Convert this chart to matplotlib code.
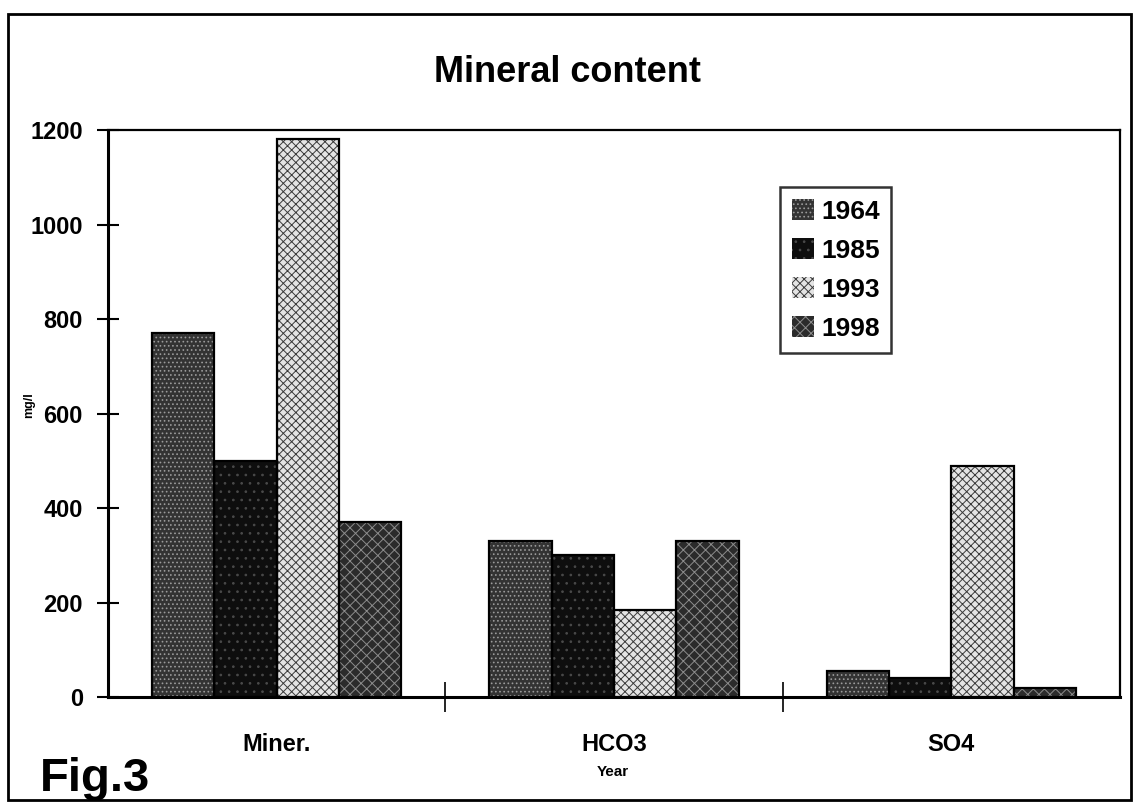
"""Mineral content bar chart (Fig.3), grouped by parameter and year."""
import matplotlib
matplotlib.use("Agg")
import matplotlib.pyplot as plt
import numpy as np
from matplotlib.patches import Rectangle

plt.rcParams["font.family"] = ["Liberation Sans", "DejaVu Sans"]
plt.rcParams["font.weight"] = "bold"
plt.rcParams["hatch.linewidth"] = 0.7

categories = ["Miner.", "HCO3", "SO4"]
years = ["1964", "1985", "1993", "1998"]
v1964 = [770, 330, 55]
v1985 = [500, 300, 40]
v1993 = [1180, 185, 490]
v1998 = [370, 330, 20]
yticks = [0, 200, 400, 600, 800, 1000, 1200]

# face colour, hatch pattern, hatch colour per year
styles = [
    ("#333333", "....", "#9a9a9a"),
    ("#0e0e0e", "..", "#4a4a4a"),
    ("#e4e4e4", "xxxx", "#3a3a3a"),
    ("#2b2b2b", "xxx", "#8c8c8c"),
]

fig = plt.figure(figsize=(11.34, 8.05), dpi=100)
ax = fig.add_axes([0.0952, 0.134, 0.8925, 0.7045])

x = np.arange(len(categories))
width = 0.185
offsets = (np.arange(4) - 1.5) * width
handles = []
for vals, off, (fc, hatch, hc), label in zip(
        [v1964, v1985, v1993, v1998], offsets, styles, years):
    b = ax.bar(x + off, vals, width, color=fc, edgecolor=hc, hatch=hatch,
               linewidth=0, label=label, zorder=2)
    ax.bar(x + off, vals, width, facecolor="none", edgecolor="black",
           linewidth=1.6, zorder=3)
    handles.append(b)

ax.set_xlim(-0.5, 2.5)
ax.set_ylim(0, 1200)
ax.set_yticks(yticks)
ax.set_yticklabels([str(t) for t in yticks], fontsize=17, fontweight="bold")
ax.set_xticks(x)
ax.set_xticklabels(categories, fontsize=17, fontweight="bold")
ax.tick_params(axis="x", which="major", length=0, pad=26)
ax.set_xticks([0.5, 1.5], minor=True)
ax.tick_params(axis="x", which="minor", direction="inout", length=22, width=1.2)
ax.tick_params(axis="y", direction="inout", length=16, width=1.5, pad=10)
for side in ["left", "bottom"]:
    ax.spines[side].set_linewidth(2.2)
for side in ["top", "right"]:
    ax.spines[side].set_linewidth(1.6)

leg = ax.legend(handles=handles, loc="upper left", bbox_to_anchor=(0.664, 0.8995),
                borderaxespad=0, fontsize=19, frameon=True, fancybox=False,
                edgecolor="black", handlelength=0.85, handleheight=0.85,
                handletextpad=0.25, labelspacing=0.55, borderpad=0.45)
leg.get_frame().set_linewidth(1.8)
for t in leg.get_texts():
    t.set_fontweight("bold")

fig.text(0.5, 0.91, "Mineral content", ha="center", va="center",
         fontsize=26, fontweight="bold")
fig.text(0.026, 0.497, "mg/l", rotation=90, ha="center", va="center",
         fontsize=9, fontweight="bold")
fig.text(0.54, 0.041, "Year", ha="center", va="center",
         fontsize=11, fontweight="bold")
fig.text(0.035, 0.032, "Fig.3", ha="left", va="center",
         fontsize=34, fontweight="bold")

# outer frame around the whole figure
fig.patches.append(Rectangle((0.007, 0.006), 0.99, 0.976, transform=fig.transFigure,
                             fill=False, edgecolor="black", linewidth=2.0))

fig.savefig("out.png", dpi=100)
plt.close(fig)
